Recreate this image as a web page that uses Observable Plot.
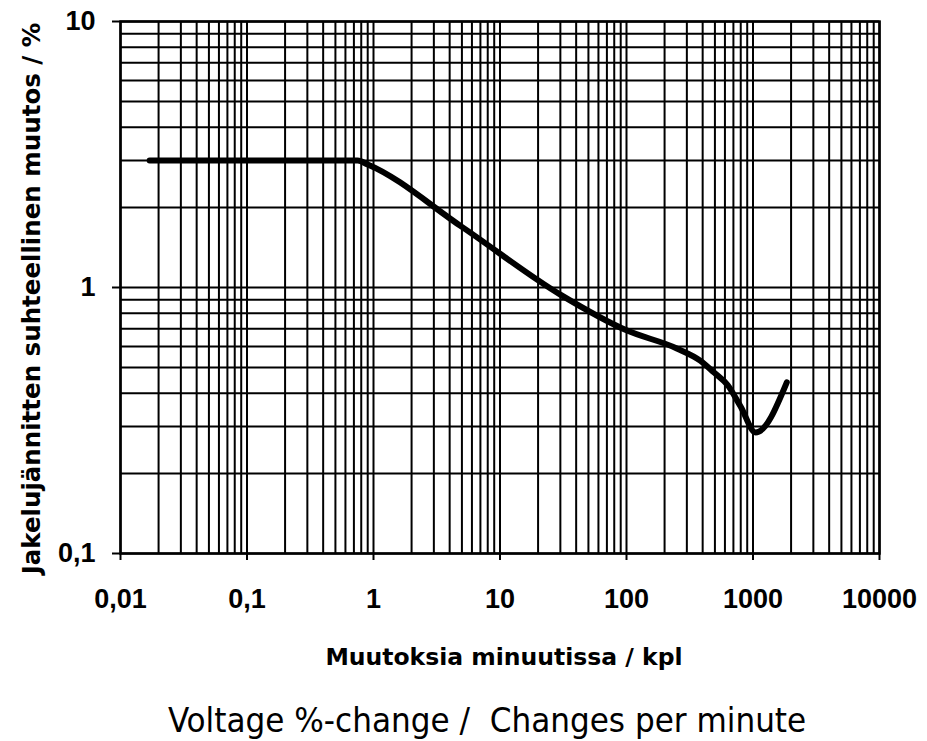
<!DOCTYPE html>
<html>
<head>
<meta charset="utf-8">
<script src="https://cdn.jsdelivr.net/npm/d3@7"></script>
<script src="https://cdn.jsdelivr.net/npm/@observablehq/plot@0.6"></script>
<style>
  html, body { margin: 0; padding: 0; background: #fff; }
  #wrap { position: relative; width: 927px; height: 741px; overflow: hidden; }
  #cap { position: absolute; left: 168px; top: 700px; font-family: "DejaVu Sans Condensed", "DejaVu Sans", sans-serif; font-stretch: condensed; font-size: 34.6px; line-height: 40px; color: #000; white-space: pre; }
</style>
</head>
<body>
<div id="wrap"><div id="chart"></div><div id="cap">Voltage %-change /  Changes per minute</div></div>
<script>
const changesPerMinute = [0.017, 0.75, 0.9, 5, 30, 100, 250, 385, 490, 630, 800, 1050, 1850];
const voltageChange    = [3.0,   3.0,  2.9, 1.69, 0.94, 0.69, 0.59, 0.53, 0.48, 0.43, 0.356, 0.285, 0.44];
const xTicks = [0.01, 0.1, 1, 10, 100, 1000, 10000];
const xTickLabels = ["0,01", "0,1", "1", "10", "100", "1000", "10000"];
const yTicks = [0.1, 1, 10];
const yTickLabels = ["0,1", "1", "10"];
const xLabel = "Muutoksia minuutissa / kpl";
const yLabel = "Jakelujännitten suhteellinen muutos / %";

const data = changesPerMinute.map((x, i) => ({x, y: voltageChange[i]}));
const font = "Liberation Sans, Arial, sans-serif";
const labelFont = "DejaVu Sans, sans-serif";

const chart = Plot.plot({
  width: 927,
  height: 680,
  marginLeft: 120,
  marginRight: 48,
  marginTop: 21,
  marginBottom: 127,
  style: {fontFamily: font, background: "white", color: "black"},
  x: {type: "log", domain: [0.01, 10000]},
  y: {type: "log", domain: [0.1, 10]},
  marks: [
    Plot.gridX({ticks: 60, stroke: "black", strokeOpacity: 1, strokeWidth: 2}),
    Plot.gridY({ticks: 30, stroke: "black", strokeOpacity: 1, strokeWidth: 2}),
    Plot.frame({stroke: "black", strokeWidth: 2.5}),
    Plot.axisX({ticks: xTicks, tickFormat: d => xTickLabels[xTicks.indexOf(d)], tickSize: 7, tickPadding: 28,
      fontSize: 27, fontWeight: "bold", strokeWidth: 2, label: null}),
    Plot.axisY({ticks: yTicks, tickFormat: d => yTickLabels[yTicks.indexOf(d)], tickSize: 8, tickPadding: 17,
      fontSize: 27, fontWeight: "bold", strokeWidth: 2, label: null}),
    Plot.line(data, {x: "x", y: "y", curve: "monotone-x", stroke: "black", strokeWidth: 6, strokeLinejoin: "round", strokeLinecap: "round"}),
    Plot.text([xLabel], {text: d => d, frameAnchor: "bottom", dy: 104, dx: 4, lineAnchor: "middle", textAnchor: "middle",
      fontFamily: labelFont, fontSize: 23.5, fontWeight: "bold", fill: "black"}),
    Plot.text([yLabel], {text: d => d, frameAnchor: "left", rotate: -90, dx: -88, dy: 11, lineAnchor: "middle", textAnchor: "middle",
      fontFamily: labelFont, fontSize: 24.5, fontWeight: "bold", fill: "black"})
  ]
});
document.getElementById("chart").appendChild(chart);
</script>
</body>
</html>
